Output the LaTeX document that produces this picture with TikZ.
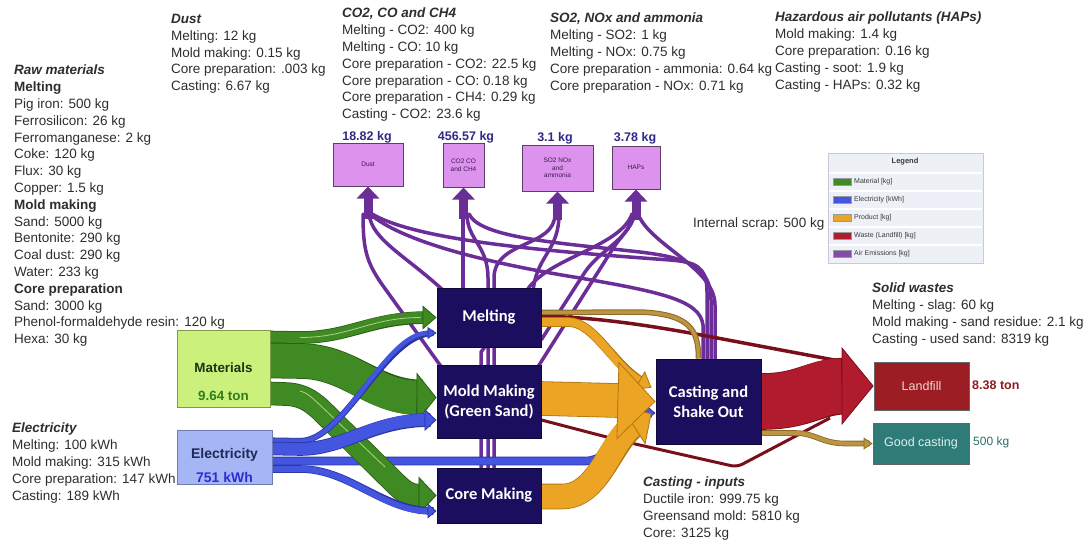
\documentclass[tikz,border=0pt]{standalone}
\usepackage{fontspec}
\setmainfont{Liberation Sans}
\newfontfamily\boxfont{Carlito}
\usetikzlibrary{arrows.meta,calc}
\pgfdeclarelayer{paper}
\pgfdeclarelayer{flows}
\pgfsetlayers{paper,flows,main}

\definecolor{ink}{HTML}{2E2E2E}
\definecolor{navy}{HTML}{1C0E5E}
\definecolor{navyedge}{HTML}{0E0838}
\definecolor{matfill}{HTML}{CCF07C}
\definecolor{matedge}{HTML}{7E9B4A}
\definecolor{mattext}{HTML}{1E3312}
\definecolor{matval}{HTML}{2F7D1C}
\definecolor{elecfill}{HTML}{A6B5F4}
\definecolor{elecedge}{HTML}{6E7CB5}
\definecolor{electext}{HTML}{1F2A5A}
\definecolor{elecval}{HTML}{2B2FD0}
\definecolor{gflow}{HTML}{3F8A22}
\definecolor{gedge}{HTML}{2A5C15}
\definecolor{gstripe}{HTML}{A9D48A}
\definecolor{bflow}{HTML}{4455E0}
\definecolor{bedge}{HTML}{2C36A0}
\definecolor{oflow}{HTML}{EBA423}
\definecolor{oedge}{HTML}{B07612}
\definecolor{rflow}{HTML}{B01B2E}
\definecolor{redge}{HTML}{7A0F1C}
\definecolor{tflow}{HTML}{BC9443}
\definecolor{tedge}{HTML}{8A6A25}
\definecolor{pflow}{HTML}{6B2D98}
\definecolor{emfill}{HTML}{DD92EE}
\definecolor{emedge}{HTML}{5A4062}
\definecolor{emtext}{HTML}{3A1A4A}
\definecolor{valnavy}{HTML}{2E2A85}
\definecolor{landfill}{HTML}{9C1D23}
\definecolor{landtext}{HTML}{F2D6D6}
\definecolor{landval}{HTML}{8E1A22}
\definecolor{goodfill}{HTML}{2E7B77}
\definecolor{goodtext}{HTML}{DDF0EE}
\definecolor{goodval}{HTML}{2E6F6B}
\definecolor{legfill}{HTML}{EEF0F7}
\definecolor{legedge}{HTML}{C6CADB}
\definecolor{legtext}{HTML}{3A3A3A}

% a Sankey band: fill colour, edge colour, width, head width, head length, path
\newcommand{\flowband}[6]{%
  \draw[#2, line width=#3+1.6, line join=round, shorten >=#5-6] #6;
  \draw[#1, line width=#3, line join=round,
        -{Triangle[length=#5pt, width=#4pt, color=#2, fill=#1, line width=0.8pt]}] #6;
}

\tikzset{
  txt/.style={anchor=north west, inner sep=0, align=left, text=ink,
              font=\fontsize{13.5}{16.8}\selectfont},
  srcbox/.style={line width=1, inner sep=0},
  proc/.style={draw=navyedge, fill=navy, line width=1, text=white, inner sep=0,
               align=center, font=\boxfont\bfseries\fontsize{16.5}{20}\selectfont},
  sink/.style={draw=black!60, line width=0.8, inner sep=0,
               font=\fontsize{12.5}{14}\selectfont},
  embox/.style={draw=emedge, fill=emfill, line width=1, inner sep=0, align=center,
                text=emtext, font=\fontsize{6.5}{7.6}\selectfont},
  emval/.style={text=valnavy, inner sep=0, font=\bfseries\fontsize{12.5}{14}\selectfont},
  emline/.style={draw=pflow, line width=3.5, line cap=round, line join=round},
  emstem/.style={draw=pflow, line width=9, -{Triangle[length=12pt,width=22pt]}},
  legtxt/.style={inner sep=0, text=legtext, font=\fontsize{7}{8}\selectfont},
  swatch/.style={minimum width=18, minimum height=7, inner sep=0, draw=black!40, line width=0.3},
}

\begin{document}
\begin{tikzpicture}[x=1pt,y=-1pt]
\useasboundingbox (0,0) rectangle (1089,541);
\begin{pgfonlayer}{paper}
\fill[white] (0,0) rectangle (1089,541);
\end{pgfonlayer}

% ---------- sources, processes and sinks ----------
\node[srcbox, fill=matfill, draw=matedge, minimum width=93, minimum height=77] (mat) at (223.5,368.5) {};
\node[text=mattext, inner sep=0, font=\bfseries\fontsize{13.4}{15}\selectfont] (matname) at (223.5,368) {Materials};
\node[text=matval, inner sep=0, font=\bfseries\fontsize{13.4}{15}\selectfont] (matamount) at (223.5,396) {9.64 ton};

\node[srcbox, fill=elecfill, draw=elecedge, minimum width=95, minimum height=54] (elec) at (224.5,457) {};
\node[text=electext, inner sep=0, font=\bfseries\fontsize{14}{15}\selectfont] (elecname) at (224.5,455) {Electricity};
\node[text=elecval, inner sep=0, font=\bfseries\fontsize{14}{15}\selectfont] (elecamount) at (224.5,477) {751 kWh};

\node[proc, minimum width=104, minimum height=59] (melt) at (489,317.5) {Melting};
\node[proc, minimum width=104, minimum height=73] (mold) at (489,401.5) {Mold Making\\(Green Sand)};
\node[proc, minimum width=104, minimum height=55] (core) at (489,495.5) {Core Making};
\node[proc, minimum width=105, minimum height=85] (cast) at (708.5,401.5) {Casting and\\Shake Out};

\node[sink, fill=landfill, text=landtext, minimum width=95, minimum height=48] (land) at (921.5,386) {Landfill};
\node[sink, fill=goodfill, text=goodtext, minimum width=96, minimum height=41] (good) at (921,443.5) {Good casting};
\node[anchor=west, inner sep=0, text=landval, font=\bfseries\fontsize{12.5}{14}\selectfont] (landamount) at (972,385) {8.38 ton};
\node[anchor=west, inner sep=0, text=goodval, font=\fontsize{12}{14}\selectfont] (goodamount) at (973,442) {500 kg};

% ---------- air emission boxes ----------
\node[embox, minimum width=70, minimum height=43] (dust) at (368,164.5) {Dust};
\node[embox, minimum width=41, minimum height=44] (co2) at (463.5,165) {CO2 CO\\and CH4};
\node[embox, minimum width=71, minimum height=46] (so2) at (557.5,168) {SO2 NOx\\and\\ammonia};
\node[embox, minimum width=48, minimum height=43] (haps) at (636,167.5) {HAPs};
\node[emval] (dustval) at (367,137) {18.82 kg};
\node[emval] (co2val) at (466,137) {456.57 kg};
\node[emval] (so2val) at (555,138) {3.1 kg};
\node[emval] (hapsval) at (635,138) {3.78 kg};

% ---------- flows, drawn underneath the boxes ----------
\begin{pgfonlayer}{flows}
% air emissions
\draw[emline] ($(mold.north west)+(6,4)$) -- (381,283) .. controls (366,261) and (363,248) .. (363,214);
\draw[emline] ($(melt.north west)+(8,4)$) .. controls (405,255) and (372,240) .. (369,214);
\draw[emline] ($(cast.north)+(-1.5,0)$) -- (707,292) .. controls (707,266) and (695,262) .. (670,260)
      .. controls (560,252) and (420,242) .. (372,214);
\draw[emline] ($(cast.north)+(-5.5,0)$) -- (703,325) .. controls (700,300) and (660,292) .. (580,278)
      .. controls (480,262) and (400,240) .. (370,214);
\draw[emline] ($(cast.north)+(2.5,0)$) -- (711,300) .. controls (711,268) and (690,258) .. (640,252)
      .. controls (560,243) and (480,238) .. (469,214);
\draw[emline] ($(cast.north)+(6.5,0)$) -- (715,305) .. controls (715,268) and (650,245) .. (638,214);
\draw[emline] ($(melt.north)+(-26,0)$) -- (463,214);
\draw[emline] ($(core.north)+(-1,0)$) -- (488,278) .. controls (488,245) and (467,240) .. (467,214);
\draw[emline] ($(core.north)+(5,0)$) -- (494,278) .. controls (494,240) and (555,248) .. (555,214);
\draw[emline] ($(core.north)+(-8,0)$) -- (481,352) -- (526,292) .. controls (545,258) and (620,248) .. (632,214);
\draw[emline] ($(melt.north east)+(-8,0)$) .. controls (538,255) and (559,250) .. (559,214);
\draw[emline] ($(mold.north east)+(-4,3)$) -- (612,250) .. controls (622,234) and (631,230) .. (632,214);
\draw[emline] ($(melt.east)+(0,22)$) -- (585,272) .. controls (600,250) and (628,240) .. (635,214);
\draw[emstem] ($(dust.south)+(0,32)$) -- (dust.south);
\draw[emstem] ($(co2.south)+(0,31)$) -- (co2.south);
\draw[emstem] ($(so2.south)+(0,28)$) -- (so2.south);
\draw[emstem] ($(haps.south)+(0,30)$) -- (haps.south);

% electricity to casting (under the products)
\flowband{bflow}{bedge}{7}{16}{10}{($(elec.east)+(0,4)$) -- (585,461) .. controls (618,461) and (622,413) .. ($(cast.west)+(0,11.5)$)}

% materials
\flowband{gflow}{gedge}{11}{24}{14}{($(mat.north east)+(0,7.5)$) -- (300,337.5) .. controls (350,337.5) and (370,317.5) .. (melt.west)}
\draw[gstripe, line width=0.8, shorten >=16] (300,337.5) .. controls (350,337.5) and (370,317.5) .. (melt.west);
\flowband{gflow}{gedge}{34}{50}{20}{($(mat.north east)+(0,31)$) -- (300,361) .. controls (350,361) and (372,397.5) .. ($(mold.west)+(0,-4)$)}
\flowband{gflow}{gedge}{22}{38}{18}{($(mat.north east)+(0,64)$) -- (284,394) .. controls (300,394) and (310,400) .. (320,409)
      -- (392,480) .. controls (402,490) and (408,495.5) .. (418,495.5) -- (core.west)}
\draw[gstripe, line width=0.8] (300,391) .. controls (308,393) and (312,398) .. (320,405) -- (385,467);

% electricity
\flowband{bflow}{bedge}{4.5}{12}{9}{($(elec.north east)+(0,11)$) -- (300,441) .. controls (345,441) and (385,333) .. ($(melt.west)+(0,15.5)$)}
\flowband{bflow}{bedge}{12}{22}{12}{($(elec.north east)+(0,19)$) -- (300,449) .. controls (345,449) and (372,420) .. ($(mold.west)+(0,18.5)$)}
\flowband{bflow}{bedge}{6}{15}{9}{($(elec.east)+(0,12)$) -- (300,469) .. controls (350,469) and (382,511) .. ($(core.west)+(0,15.5)$)}

% wastes from melting and mold making
\draw[redge, line width=3.5, line join=round] ($(melt.east)+(0,-1.5)$) .. controls (620,318) and (690,333) .. (765,347) -- (845,362);
\draw[redge, line width=3, rounded corners=6] ($(mold.east)+(0,18.5)$) -- (622,441) -- (737,467) -- (830,418);

% internal scrap between casting and melting
\draw[tedge, line width=5.5] ($(melt.east)+(0,-5)$) -- (640,312) .. controls (690,314) and (698.5,330) .. ($(cast.north)+(-10,0)$);
\draw[tflow, line width=3.5] ($(melt.east)+(0,-5)$) -- (640,312) .. controls (690,314) and (698.5,330) .. ($(cast.north)+(-10,0)$);

% products into casting
\flowband{oflow}{oedge}{8}{22}{14}{($(melt.east)+(0,4.5)$) -- (568,322) .. controls (595,322) and (612,365) .. ($(cast.west)+(-4,-14)$)}
\flowband{oflow}{oedge}{24}{46}{22}{($(core.east)+(0,1)$) -- (562,496.5) .. controls (600,496.5) and (610,440) .. ($(cast.west)+(-4,12)$)}
\flowband{oflow}{oedge}{33}{78}{38}{($(mold.east)+(0,-3)$) -- (cast.west)}

% casting outputs
\flowband{tflow}{tedge}{4}{12}{9}{($(cast.east)+(0,31.5)$) -- (795,433) .. controls (815,433) and (822,443.5) .. (845,443.5) -- (good.west)}
\flowband{rflow}{redge}{55}{78}{32}{(cast.east) .. controls (805,401.5) and (815,386) .. (land.west)}
\end{pgfonlayer}

% ---------- legend ----------
\node[draw=legedge, fill=legfill, line width=0.8, minimum width=155, minimum height=110, inner sep=0] (legend) at (905.5,208) {};
\foreach \yy in {173,191,209,227,245} \draw[white, line width=1.4] (829,\yy) -- (982,\yy);
\node[legtxt, font=\bfseries\fontsize{7.5}{8}\selectfont] (leghead) at (905,162) {Legend};
\foreach \yy/\cc/\tt/\nn in {182/gflow/Material [kg]/mat, 200/bflow/Electricity [kWh]/elec,
                             218/oflow/Product [kg]/prod, 236/rflow/Waste (Landfill) [kg]/waste,
                             254/pflow!85!white/Air Emissions [kg]/air} {
  \node[swatch, fill=\cc] (sw\nn) at (842,\yy) {};
  \node[legtxt, anchor=west] (lt\nn) at (854,\yy) {\tt};
}

% ---------- notes ----------
\node[txt] (rawtxt) at (14,65) {\textbf{\textit{Raw materials}}\\\textbf{Melting}\\Pig iron: 500 kg\\Ferrosilicon: 26 kg\\Ferromanganese: 2 kg\\Coke: 120 kg\\Flux: 30 kg\\Copper: 1.5 kg\\\textbf{Mold making}\\Sand: 5000 kg\\Bentonite: 290 kg\\Coal dust: 290 kg\\Water: 233 kg\\\textbf{Core preparation}\\Sand: 3000 kg\\Phenol-formaldehyde resin: 120 kg\\Hexa: 30 kg};
\node[txt] (dusttxt) at (171,14) {\textbf{\textit{Dust}}\\Melting: 12 kg\\Mold making: 0.15 kg\\Core preparation: .003 kg\\Casting: 6.67 kg};
\node[txt] (co2txt) at (342,8) {\textbf{\textit{CO2, CO and CH4}}\\Melting - CO2: 400 kg\\Melting - CO: 10 kg\\Core preparation - CO2: 22.5 kg\\Core preparation - CO: 0.18 kg\\Core preparation - CH4: 0.29 kg\\Casting - CO2: 23.6 kg};
\node[txt] (so2txt) at (550,13) {\textbf{\textit{SO2, NOx and ammonia}}\\Melting - SO2: 1 kg\\Melting - NOx: 0.75 kg\\Core preparation - ammonia: 0.64 kg\\Core preparation - NOx: 0.71 kg};
\node[txt] (hapstxt) at (775,12) {\textbf{\textit{Hazardous air pollutants (HAPs)}}\\Mold making: 1.4 kg\\Core preparation: 0.16 kg\\Casting - soot: 1.9 kg\\Casting - HAPs: 0.32 kg};
\node[txt] (electxt) at (12,423) {\textbf{\textit{Electricity}}\\Melting: 100 kWh\\Mold making: 315 kWh\\Core preparation: 147 kWh\\Casting: 189 kWh};
\node[txt] (wastetxt) at (872,283) {\textbf{\textit{Solid wastes}}\\Melting - slag: 60 kg\\Mold making - sand residue: 2.1 kg\\Casting - used sand: 8319 kg};
\node[txt] (casttxt) at (643,477) {\textbf{\textit{Casting - inputs}}\\Ductile iron: 999.75 kg\\Greensand mold: 5810 kg\\Core: 3125 kg};
\node[txt, anchor=west] (scraptxt) at (693,224) {Internal scrap: 500 kg};
\end{tikzpicture}
\end{document}
